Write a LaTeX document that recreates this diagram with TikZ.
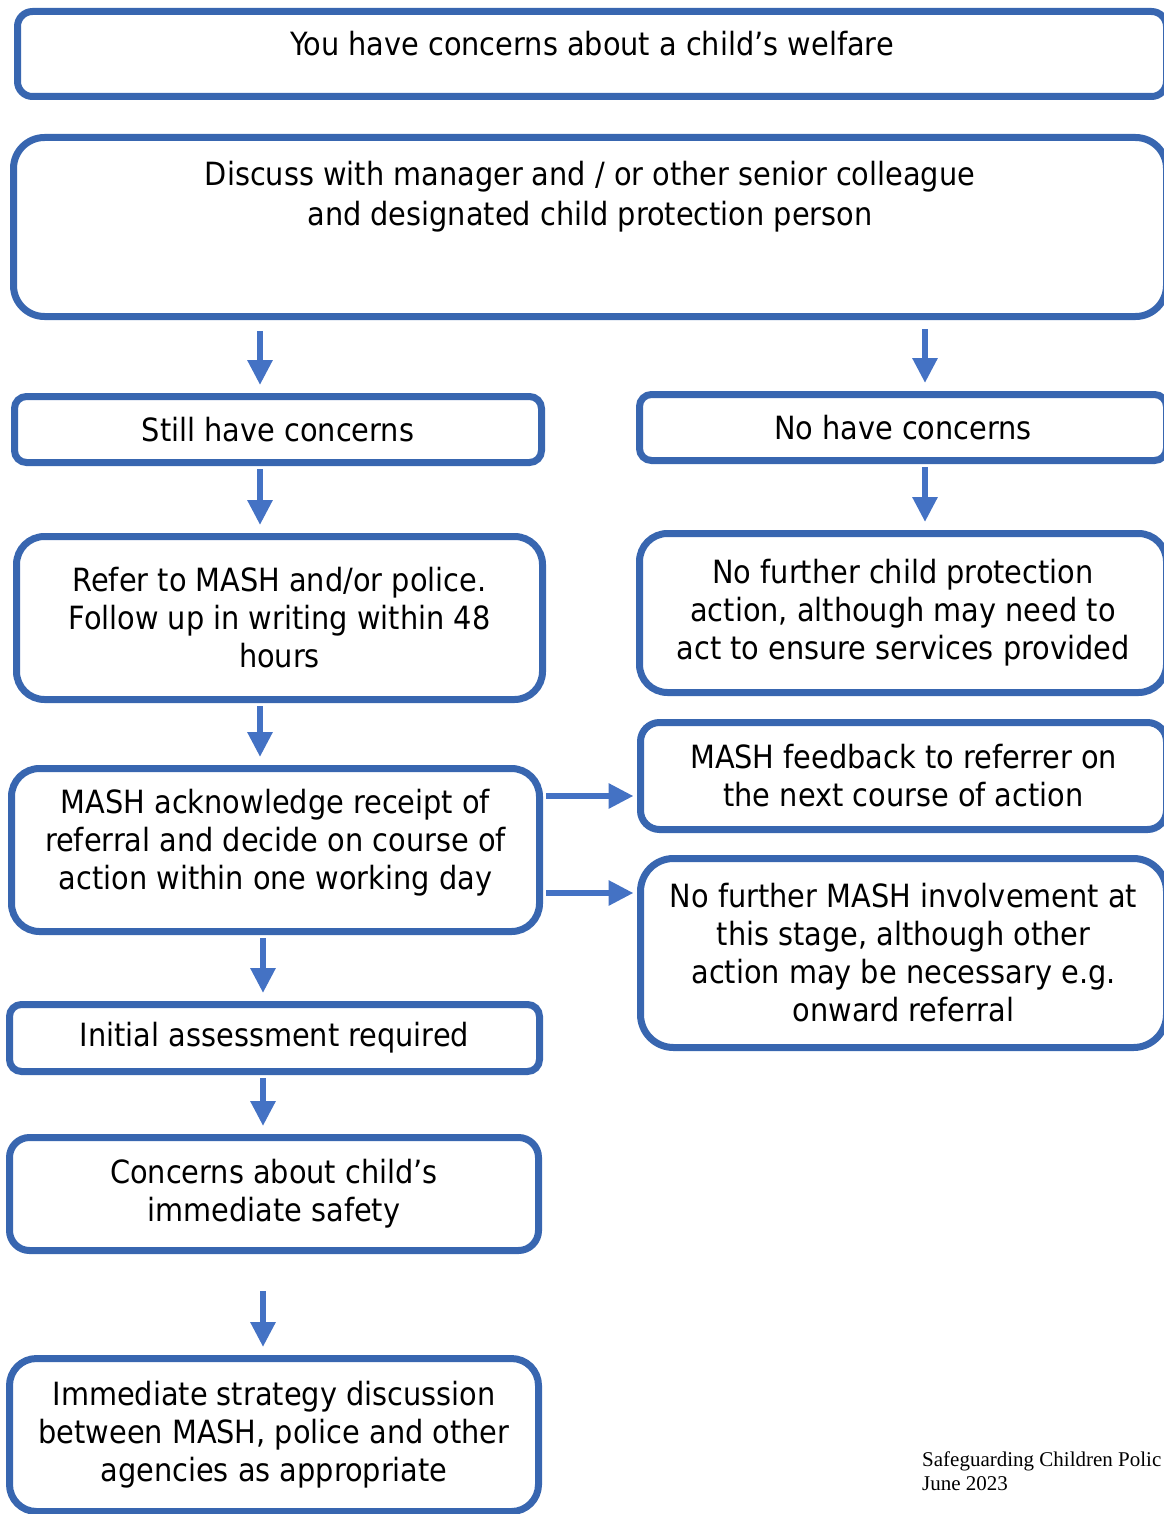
\documentclass[tikz,border=0pt]{standalone}
\usepackage{fontspec}
\setmainfont{DejaVu Sans Condensed}
\newfontfamily\footfont{Liberation Serif}
\usetikzlibrary{arrows.meta}
\definecolor{boxblue}{RGB}{56,102,176}
\definecolor{arrowblue}{RGB}{68,114,196}
\begin{document}
\begin{tikzpicture}[x=1pt, y=-1pt,
    box/.style={draw=boxblue, line width=7pt, fill=white, align=center,
        inner sep=0pt, font=\fontsize{32}{38}\selectfont},
    arr/.style={draw=arrowblue, line width=6pt, shorten <=3pt, shorten >=8pt,
        -{Triangle[length=25pt, width=24pt]}}]
    \useasboundingbox (0,0) rectangle (1163,1514);

    % 1. Hai ô trên cùng
    \node[box, minimum width=1149pt, minimum height=85pt, rounded corners=15pt, text depth=22pt]
        (concern) at (592,54) {You have concerns about a child’s welfare};
    \node[box, minimum width=1153pt, minimum height=179pt, rounded corners=31pt, text depth=68pt]
        (discuss) at (590,227) {Discuss with manager and / or other senior colleague\\[2pt]and designated child protection person};

    % 2. Cột trái
    \node[box, minimum width=527pt, minimum height=66pt, rounded corners=12pt]
        (still) at (278,429.5) {Still have concerns};
    \node[box, minimum width=526pt, minimum height=163pt, rounded corners=28pt]
        (refer) at (279.5,618) {Refer to MASH and/or police.\\Follow up in writing within 48\\hours};
    \node[box, minimum width=528pt, minimum height=163pt, rounded corners=28pt, text depth=22pt]
        (ack) at (275.5,850) {MASH acknowledge receipt of\\referral and decide on course of\\action within one working day};
    \node[box, minimum width=530pt, minimum height=67pt, rounded corners=12pt]
        (initial) at (274.5,1038) {Initial assessment required};
    \node[box, minimum width=529pt, minimum height=113pt, rounded corners=20pt]
        (safety) at (274,1194) {Concerns about child’s\\immediate safety};
    \node[box, minimum width=529pt, minimum height=153pt, rounded corners=27pt]
        (strategy) at (274,1435) {Immediate strategy discussion\\between MASH, police and other\\agencies as appropriate};

    % 3. Cột phải
    \node[box, minimum width=527pt, minimum height=66pt, rounded corners=12pt]
        (nohave) at (903,427.5) {No have concerns};
    \node[box, minimum width=527pt, minimum height=159pt, rounded corners=28pt]
        (noaction) at (903,613) {No further child protection\\action, although may need to\\act to ensure services provided};
    \node[box, minimum width=526pt, minimum height=107pt, rounded corners=19pt]
        (feedback) at (903.5,776) {MASH feedback to referrer on\\the next course of action};
    \node[box, minimum width=526pt, minimum height=189pt, rounded corners=33pt]
        (nomash) at (903.5,953) {No further MASH involvement at\\this stage, although other\\action may be necessary e.g.\\onward referral};

    % 4. Mũi tên
    \draw[arr, shorten <=11pt] (discuss.south -| 260,0) -- (still.north -| 260,0);
    \draw[arr, shorten <=9pt] (discuss.south -| 925,0) -- (nohave.north -| 925,0);
    \draw[arr] (still.south -| 260,0) -- (refer.north -| 260,0);
    \draw[arr] (nohave.south -| 925,0) -- (noaction.north -| 925,0);
    \draw[arr] (refer.south -| 260,0) -- (ack.north -| 260,0);
    \draw[arr, shorten >=3.5pt] (ack.east |- 0,796) -- (feedback.west |- 0,796);
    \draw[arr, shorten >=3.5pt] (ack.east |- 0,893) -- (nomash.west |- 0,893);
    \draw[arr] (ack.south -| 263,0) -- (initial.north -| 263,0);
    \draw[arr] (initial.south -| 263,0) -- (safety.north -| 263,0);
    \draw[arr, shorten <=37pt] (safety.south -| 263,0) -- (strategy.north -| 263,0);

    % 5. Chân trang
    \node[anchor=north west, inner sep=0pt, align=left, font=\footfont\fontsize{21}{24}\selectfont]
        (footer) at (922,1451) {Safeguarding Children Polic\\June 2023};
\end{tikzpicture}
\end{document}
